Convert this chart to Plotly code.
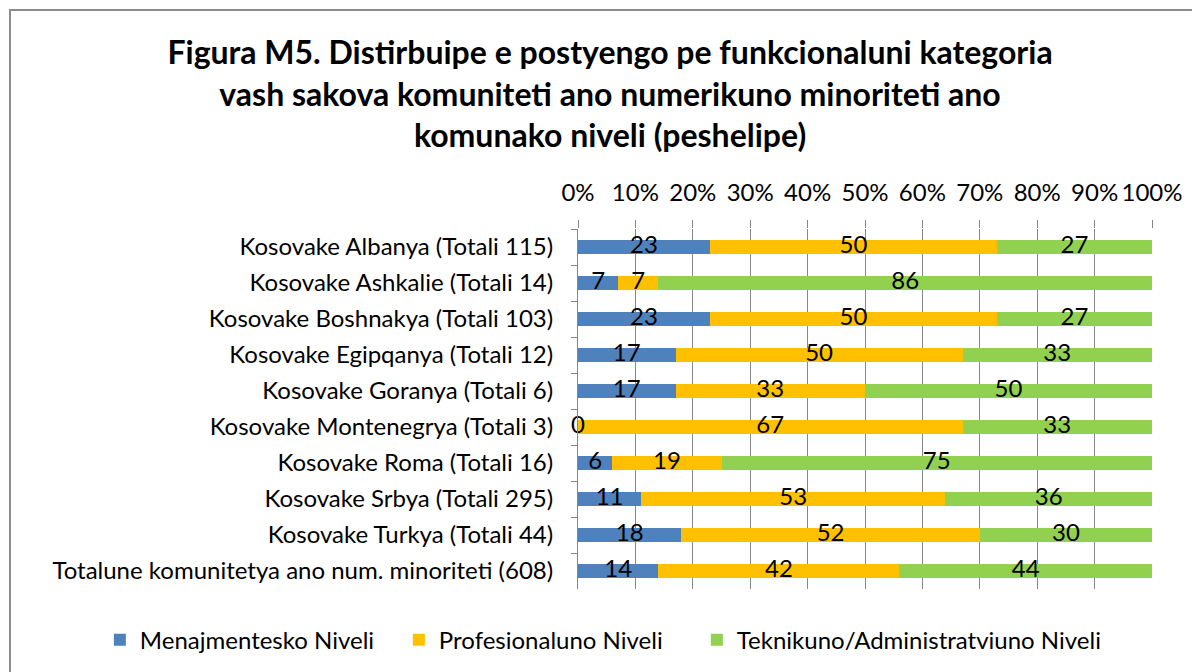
import plotly.graph_objects as go

categories = [
    "Kosovake Albanya (Totali 115)",
    "Kosovake Ashkalie (Totali 14)",
    "Kosovake Boshnakya (Totali 103)",
    "Kosovake Egipqanya (Totali 12)",
    "Kosovake Goranya (Totali 6)",
    "Kosovake Montenegrya (Totali 3)",
    "Kosovake Roma (Totali 16)",
    "Kosovake Srbya (Totali 295)",
    "Kosovake Turkya (Totali 44)",
    "Totalune komunitetya ano num. minoriteti (608)",
]
menajmentesko = [23, 7, 23, 17, 17, 0, 6, 11, 18, 14]
profesionaluno = [50, 7, 50, 50, 33, 67, 19, 53, 52, 42]
teknikuno = [27, 86, 27, 33, 50, 33, 75, 36, 30, 44]
tick_vals = [0, 10, 20, 30, 40, 50, 60, 70, 80, 90, 100]
tick_text = ["0%", "10%", "20%", "30%", "40%", "50%", "60%", "70%", "80%", "90%", "100%"]

series = [
    ("Menajmentesko Niveli", menajmentesko, "#4F81BD", 254),
    ("Profesionaluno Niveli", profesionaluno, "#FFC000", 253),
    ("Teknikuno/Administratviuno Niveli", teknikuno, "#92D050", 380),
]

FONT = "Lato"
FS = 24
fig = go.Figure()
base = [0] * len(categories)
for name, vals, color, lw in series:
    fig.add_trace(go.Bar(
        y=categories, x=vals, name=name, orientation="h",
        marker=dict(color=color, line=dict(width=0)),
        width=0.41, legendwidth=lw,
    ))
    mids = [b + v / 2 for b, v in zip(base, vals)]
    fig.add_trace(go.Scatter(
        y=categories, x=mids, mode="text", text=[str(v) for v in vals],
        textposition="middle center",
        textfont=dict(family=FONT, size=FS, color="black"),
        showlegend=False, hoverinfo="skip", cliponaxis=False,
    ))
    base = [b + v for b, v in zip(base, vals)]

fig.update_layout(
    barmode="stack",
    width=1200, height=672,
    paper_bgcolor="white", plot_bgcolor="white",
    margin=dict(l=570, r=56, t=221, b=91, autoexpand=False),
    font=dict(family=FONT, size=FS, color="black"),
    title=dict(
        text="Figura M5. Distirbuipe e postyengo pe funkcionaluni kategoria<br>"
             "vash sakova komuniteti ano numerikuno minoriteti ano<br>"
             "komunako niveli (peshelipe)",
        font=dict(family=FONT, size=32, color="black", weight="bold"),
        x=0.5017, xanchor="center", xref="container",
        y=0.9167, yanchor="top", yref="container",
    ),
    xaxis=dict(
        side="top", range=[0, 100], tickvals=tick_vals, ticktext=tick_text,
        showgrid=True, gridcolor="#878787", gridwidth=1,
        ticks="outside", ticklen=8, tickcolor="#878787",
        showline=False, zeroline=False, fixedrange=True, automargin=False,
        ticklabelstandoff=9,
        tickfont=dict(family=FONT, size=FS),
    ),
    yaxis=dict(
        autorange="reversed", type="category",
        showline=True, linecolor="#878787", linewidth=1,
        ticks="outside", ticklen=6, tickcolor="#878787", tickson="boundaries",
        showgrid=False, ticklabelstandoff=19, automargin=False,
        tickfont=dict(family=FONT, size=FS),
    ),
    legend=dict(
        orientation="h", xref="paper", x=-0.833, xanchor="left",
        yref="paper", y=-0.142, yanchor="middle",
        font=dict(family=FONT, size=FS), traceorder="normal",
    ),
    shapes=[dict(
        type="rect", xref="paper", yref="paper",
        x0=-568 / 574, x1=70 / 574 + 1, y0=-120 / 360, y1=1 + 219 / 360,
        line=dict(color="#8C8C8C", width=2), fillcolor="rgba(0,0,0,0)", layer="below",
    )],
)

fig.write_html("out.html")
